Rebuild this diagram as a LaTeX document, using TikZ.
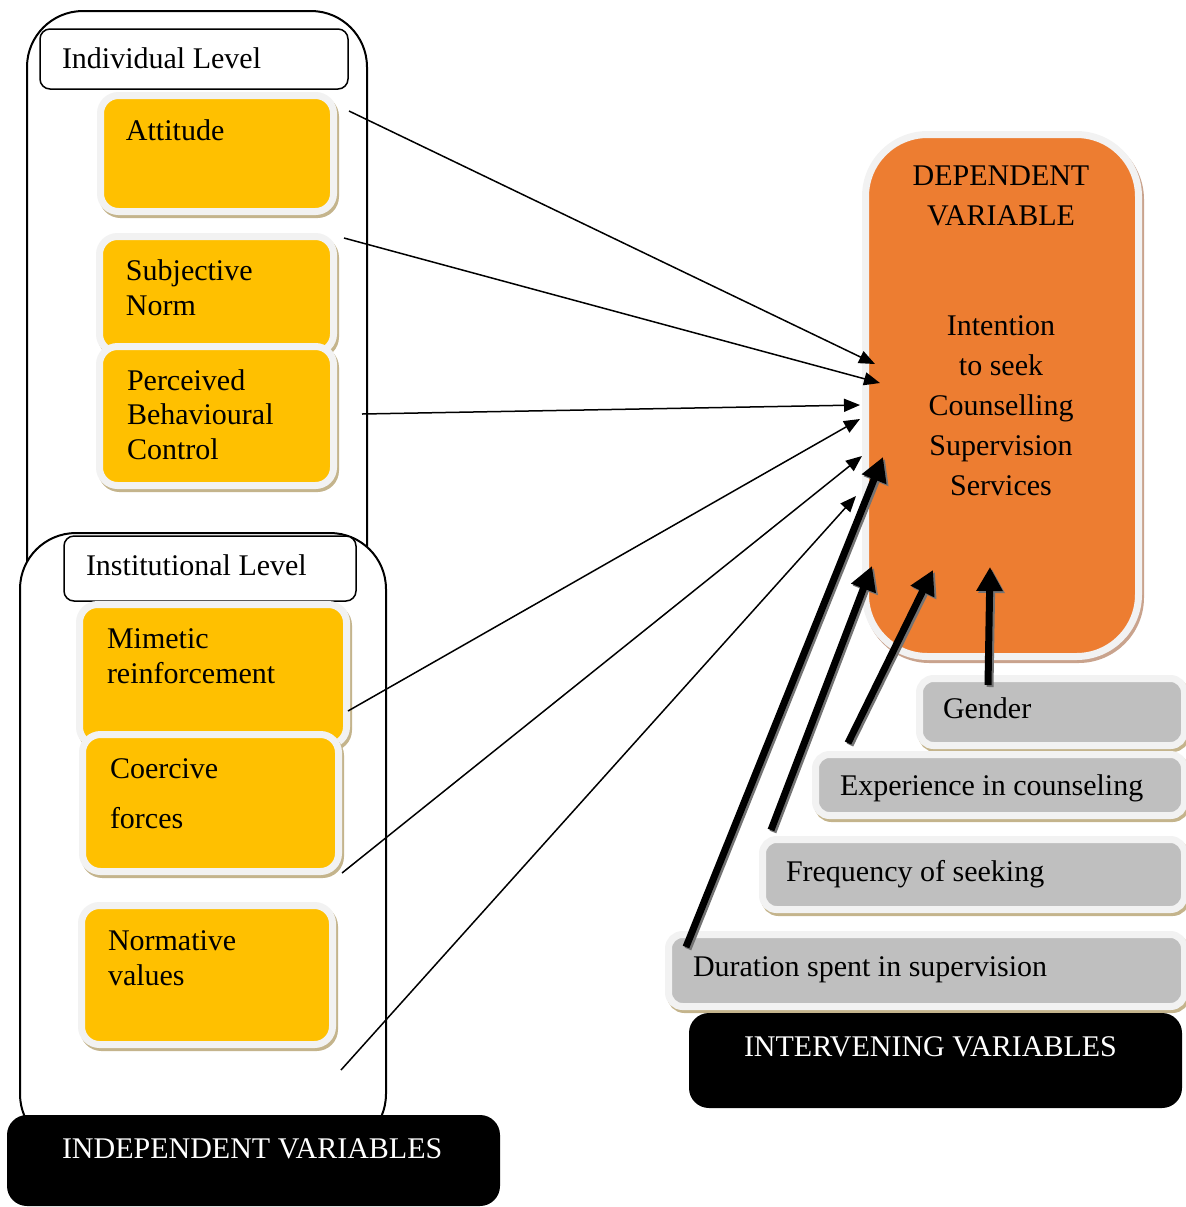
\documentclass[tikz,border=0pt]{standalone}
\usepackage{fontspec}
\setmainfont{Liberation Serif}
\usetikzlibrary{arrows.meta,fit}
\definecolor{yel}{HTML}{FFC000}
\definecolor{org}{HTML}{ED7D31}
\definecolor{gry}{HTML}{BFBFBF}
\definecolor{bord}{HTML}{F2F2F2}
\definecolor{shtan}{HTML}{C4B48C}
\definecolor{shorg}{HTML}{C9A38D}
\newcommand\fsz{\fontsize{15}{17.5}\selectfont}
\newcommand\ctrline[1]{\hbox to 0pt{\hss#1\hss}}
\begin{document}
\begin{tikzpicture}[x=0.5pt,y=-0.5pt,
  txt/.style={inner sep=0pt, outer sep=0pt, font=\fsz, anchor=base west},
  ctxt/.style={inner sep=0pt, outer sep=0pt, font=\fsz, anchor=base},
  wtxt/.style={inner sep=0pt, outer sep=0pt, font=\fsz, text=white, anchor=base west},
  shadowed/.style={preaction={draw=#1, fill=#1, line width=3.5pt, transform canvas={shift={(1pt,-1.5pt)}}}},
  card/.style={rectangle, inner sep=0pt, outer sep=0pt, draw=bord, line width=3.5pt},
  ybox/.style={card, rounded corners=9pt, fill=yel, shadowed=shtan},
  obox/.style={card, rounded corners=31pt, fill=org, shadowed=shorg},
  gbox/.style={card, rounded corners=7pt, fill=gry, shadowed=shtan},
  container/.style={rectangle, inner sep=0pt, outer sep=0pt, draw=black, line width=1pt, rounded corners=28pt, fill=white},
  lvlbox/.style={rectangle, inner sep=0pt, outer sep=0pt, draw=black, line width=0.75pt, rounded corners=5pt, fill=white},
  blackbox/.style={rectangle, inner sep=0pt, outer sep=0pt, fill=black, rounded corners=10pt},
  thinarrow/.style={line width=0.75pt, -{Triangle[length=8pt,width=6.5pt]}},
  thickarrow/.style={line width=3.5pt, -{Triangle[length=12pt,width=12.5pt]},
    preaction={draw=black!55, line width=3.5pt, -{Triangle[length=12pt,width=12.5pt]}, transform canvas={shift={(1pt,-1pt)}}}}
]
\useasboundingbox (0,0) rectangle (1186,1207);

% containers
\node[container, fit={(27,11) (367,650)}] (indc) {};
\node[container, fit={(20,533) (386,1150)}] (instc) {};
\node[lvlbox, fit={(40,29) (348,89)}] (indlvl) {};
\node[txt] (tindlvl) at (62,68) {Individual Level};
\node[lvlbox, fit={(64,536) (356,601)}] (instlvl) {};
\node[txt] (tinstlvl) at (86,575) {Institutional Level};

% yellow boxes
\node[ybox, fit={(100.5,95.5) (333.5,211.5)}] (att) {};
\node[txt] (tatt) at (126,140) {Attitude};
\node[ybox, fit={(99.5,236.5) (333.5,352)}] (sub) {};
\node[txt] (tsub) at (126,280) {\vtop{\hbox{Subjective}\hbox{Norm}}};
\node[ybox, fit={(99.5,346.5) (333.5,485.5)}] (pbc) {};
\node[txt] (tpbc) at (127,390) {\vtop{\baselineskip=17.25pt\hbox{Perceived}\hbox{Behavioural}\hbox{Control}}};
\node[ybox, fit={(79.5,604.5) (346.5,745)}] (mim) {};
\node[txt] (tmim) at (107,648) {\vtop{\hbox{Mimetic}\hbox{reinforcement}}};
\node[ybox, fit={(82.5,734.5) (338.5,871.5)}] (coe) {};
\node[txt] (tcoe) at (110,778) {\vtop{\baselineskip=25pt\hbox{Coercive}\hbox{forces}}};
\node[ybox, fit={(81.5,905.5) (332.5,1044.5)}] (nor) {};
\node[txt] (tnor) at (108,950) {\vtop{\hbox{Normative}\hbox{values}}};

% dependent variable
\node[obox, fit={(865.5,134.5) (1138.5,656.5)}] (dv) {};
\node[ctxt] (tdv1) at (1001,185) {\vtop{\baselineskip=20pt\ctrline{DEPENDENT}\ctrline{VARIABLE}}};
\node[ctxt] (tdv2) at (1001,335) {\vtop{\baselineskip=20pt\ctrline{Intention}\ctrline{to seek}\ctrline{Counselling}\ctrline{Supervision}\ctrline{Services}}};

% intervening variables
\node[gbox, fit={(919.5,678.5) (1184.5,745.5)}] (gen) {};
\node[txt] (tgen) at (943,718) {Gender};
\node[gbox, fit={(815.5,754.5) (1184.5,815.5)}] (exp) {};
\node[txt] (texp) at (840,795) {Experience in counseling};
\node[gbox, fit={(762.5,839.5) (1184.5,909.5)}] (fre) {};
\node[txt] (tfre) at (786,881) {Frequency of seeking};
\node[gbox, fit={(668.5,934.5) (1184.5,1006.5)}] (dur) {};
\node[txt] (tdur) at (693,976) {Duration spent in supervision};

% black label boxes
\node[blackbox, fit={(7,1115) (500,1206)}] (indep) {};
\node[wtxt] (tindep) at (62,1158) {INDEPENDENT VARIABLES};
\node[blackbox, fit={(689,1013) (1182,1108)}] (interv) {};
\node[wtxt] (tinterv) at (744,1056) {INTERVENING VARIABLES};

% arrow end points
\coordinate (s1) at (349,111);  \coordinate (e1) at (875,364);
\coordinate (s2) at (344,238);  \coordinate (e2) at (880,383);
\coordinate (s3) at (362,414);  \coordinate (e3) at (860,405);
\coordinate (s4) at (348,711);  \coordinate (e4) at (860,419);
\coordinate (s5) at (342,873);  \coordinate (e5) at (862,456);
\coordinate (s6) at (341,1070); \coordinate (e6) at (856,496);
\draw[thinarrow] (s1) -- (e1);
\draw[thinarrow] (s2) -- (e2);
\draw[thinarrow] (s3) -- (e3);
\draw[thinarrow] (s4) -- (e4);
\draw[thinarrow] (s5) -- (e5);
\draw[thinarrow] (s6) -- (e6);

\coordinate (d1) at (686,947); \coordinate (f1) at (883,457);
\coordinate (d2) at (771,830); \coordinate (f2) at (872,566);
\coordinate (d3) at (848,743); \coordinate (f3) at (933,570);
\coordinate (d4) at (988,685); \coordinate (f4) at (990,567);
\draw[thickarrow] (d1) -- (f1);
\draw[thickarrow] (d2) -- (f2);
\draw[thickarrow] (d3) -- (f3);
\draw[thickarrow] (d4) -- (f4);
\end{tikzpicture}
\end{document}
